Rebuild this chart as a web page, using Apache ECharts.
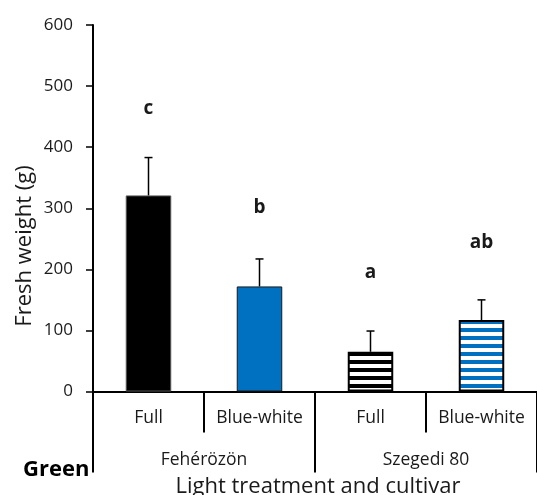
<!DOCTYPE html>
<html>
<head>
<meta charset="utf-8">
<script src="https://cdn.jsdelivr.net/npm/echarts@6/dist/echarts.min.js"></script>
<style>
  html, body { margin: 0; padding: 0; background: #fff; }
  #chart { width: 537px; height: 495px; }
</style>
</head>
<body>
<div id="chart"></div>
<script>
// data
const treatments = ['Full', 'Blue-white', 'Full', 'Blue-white']
const cultivars = ['Fehérözön', 'Szegedi 80']
const means = [321, 172, 65, 117]
const errors = [62, 45, 34, 33]
const letters = ['c', 'b', 'a', 'ab']
const letterLevels = [463, 301, 194, 244]
const yTicks = [0, 100, 200, 300, 400, 500, 600]

const FONT = '"Open Sans", sans-serif'
const BLUE = '#0070c0'
const INK = '#1a1a1a'

function stripes(color) {
  const c = document.createElement('canvas')
  c.width = 8; c.height = 8
  const ctx = c.getContext('2d')
  ctx.fillStyle = '#fff'
  ctx.fillRect(0, 0, 8, 8)
  ctx.fillStyle = color
  ctx.fillRect(0, 0, 8, 4)
  return { image: c, repeat: 'repeat' }
}

const barStyles = [
  { color: '#000', borderColor: '#555', borderWidth: 1 },
  { color: BLUE, borderColor: '#1a1a1a', borderWidth: 1 },
  { color: stripes('#000'), borderColor: '#000', borderWidth: 2 },
  { color: stripes(BLUE), borderColor: '#000', borderWidth: 2 },
]

const chart = echarts.init(document.getElementById('chart'))

chart.setOption({
  animation: false,
  textStyle: { fontFamily: FONT },
  grid: { left: 93, top: 25, width: 448, height: 366.5 },
  xAxis: [
    {
      type: 'category', data: treatments,
      axisLine: { show: true, lineStyle: { color: '#000', width: 2 } },
      axisTick: { show: true, interval: 0, length: 41, lineStyle: { color: '#000', width: 2 } },
      axisLabel: { interval: 0, margin: 18, fontSize: 17.5, color: INK },
    },
    {
      type: 'category', data: cultivars, position: 'bottom',
      axisLine: { show: false },
      axisTick: { show: true, interval: 0, length: 81, lineStyle: { color: '#000', width: 2 } },
      axisLabel: { interval: 0, margin: 60, fontSize: 17.5, color: INK },
    },
  ],
  yAxis: {
    type: 'value', min: 0, max: 600, interval: 100,
    axisLine: { show: true, lineStyle: { color: '#000', width: 2 } },
    axisTick: { show: true, length: 7, lineStyle: { color: '#000', width: 1.5 } },
    axisLabel: {
      margin: 20, fontSize: 17, color: INK,
      formatter: v => (yTicks.includes(v) ? String(v) : ''),
    },
    splitLine: { show: false },
  },
  graphic: [
    {
      type: 'text', x: 25, y: 246, rotation: Math.PI / 2,
      style: {
        text: 'Fresh weight (g)', font: '22px ' + FONT, fill: INK,
        align: 'center', verticalAlign: 'middle',
      },
    },
    {
      type: 'text', x: 23, y: 470,
      style: { text: 'Green', font: 'bold 22px ' + FONT, fill: '#000', verticalAlign: 'middle' },
    },
    {
      type: 'text', x: 318, y: 487,
      style: {
        text: 'Light treatment and cultivar', font: '22px ' + FONT, fill: INK,
        align: 'center', verticalAlign: 'middle',
      },
    },
  ],
  series: [
    {
      type: 'bar', barWidth: '41%',
      data: means.map((v, i) => ({ value: v, itemStyle: barStyles[i] })),
    },
    {
      type: 'custom',
      data: means.map((v, i) => [i, v, v + errors[i]]),
      renderItem(params, api) {
        const lo = api.coord([api.value(0), api.value(1)])
        const hi = api.coord([api.value(0), api.value(2)])
        const style = { stroke: '#000', lineWidth: 1.5 }
        return {
          type: 'group',
          children: [
            { type: 'line', shape: { x1: lo[0], y1: lo[1], x2: hi[0], y2: hi[1] }, style },
            { type: 'line', shape: { x1: hi[0] - 4, y1: hi[1], x2: hi[0] + 4, y2: hi[1] }, style },
          ],
        }
      },
      z: 5,
    },
    {
      type: 'custom',
      data: letterLevels.map((v, i) => [i, v]),
      renderItem(params, api) {
        const p = api.coord([api.value(0), api.value(1)])
        return {
          type: 'text', x: p[0], y: p[1],
          style: {
            text: letters[params.dataIndex], align: 'center', verticalAlign: 'middle',
            font: 'bold 19px ' + FONT, fill: INK,
          },
        }
      },
    },
  ],
})
</script>
</body>
</html>
